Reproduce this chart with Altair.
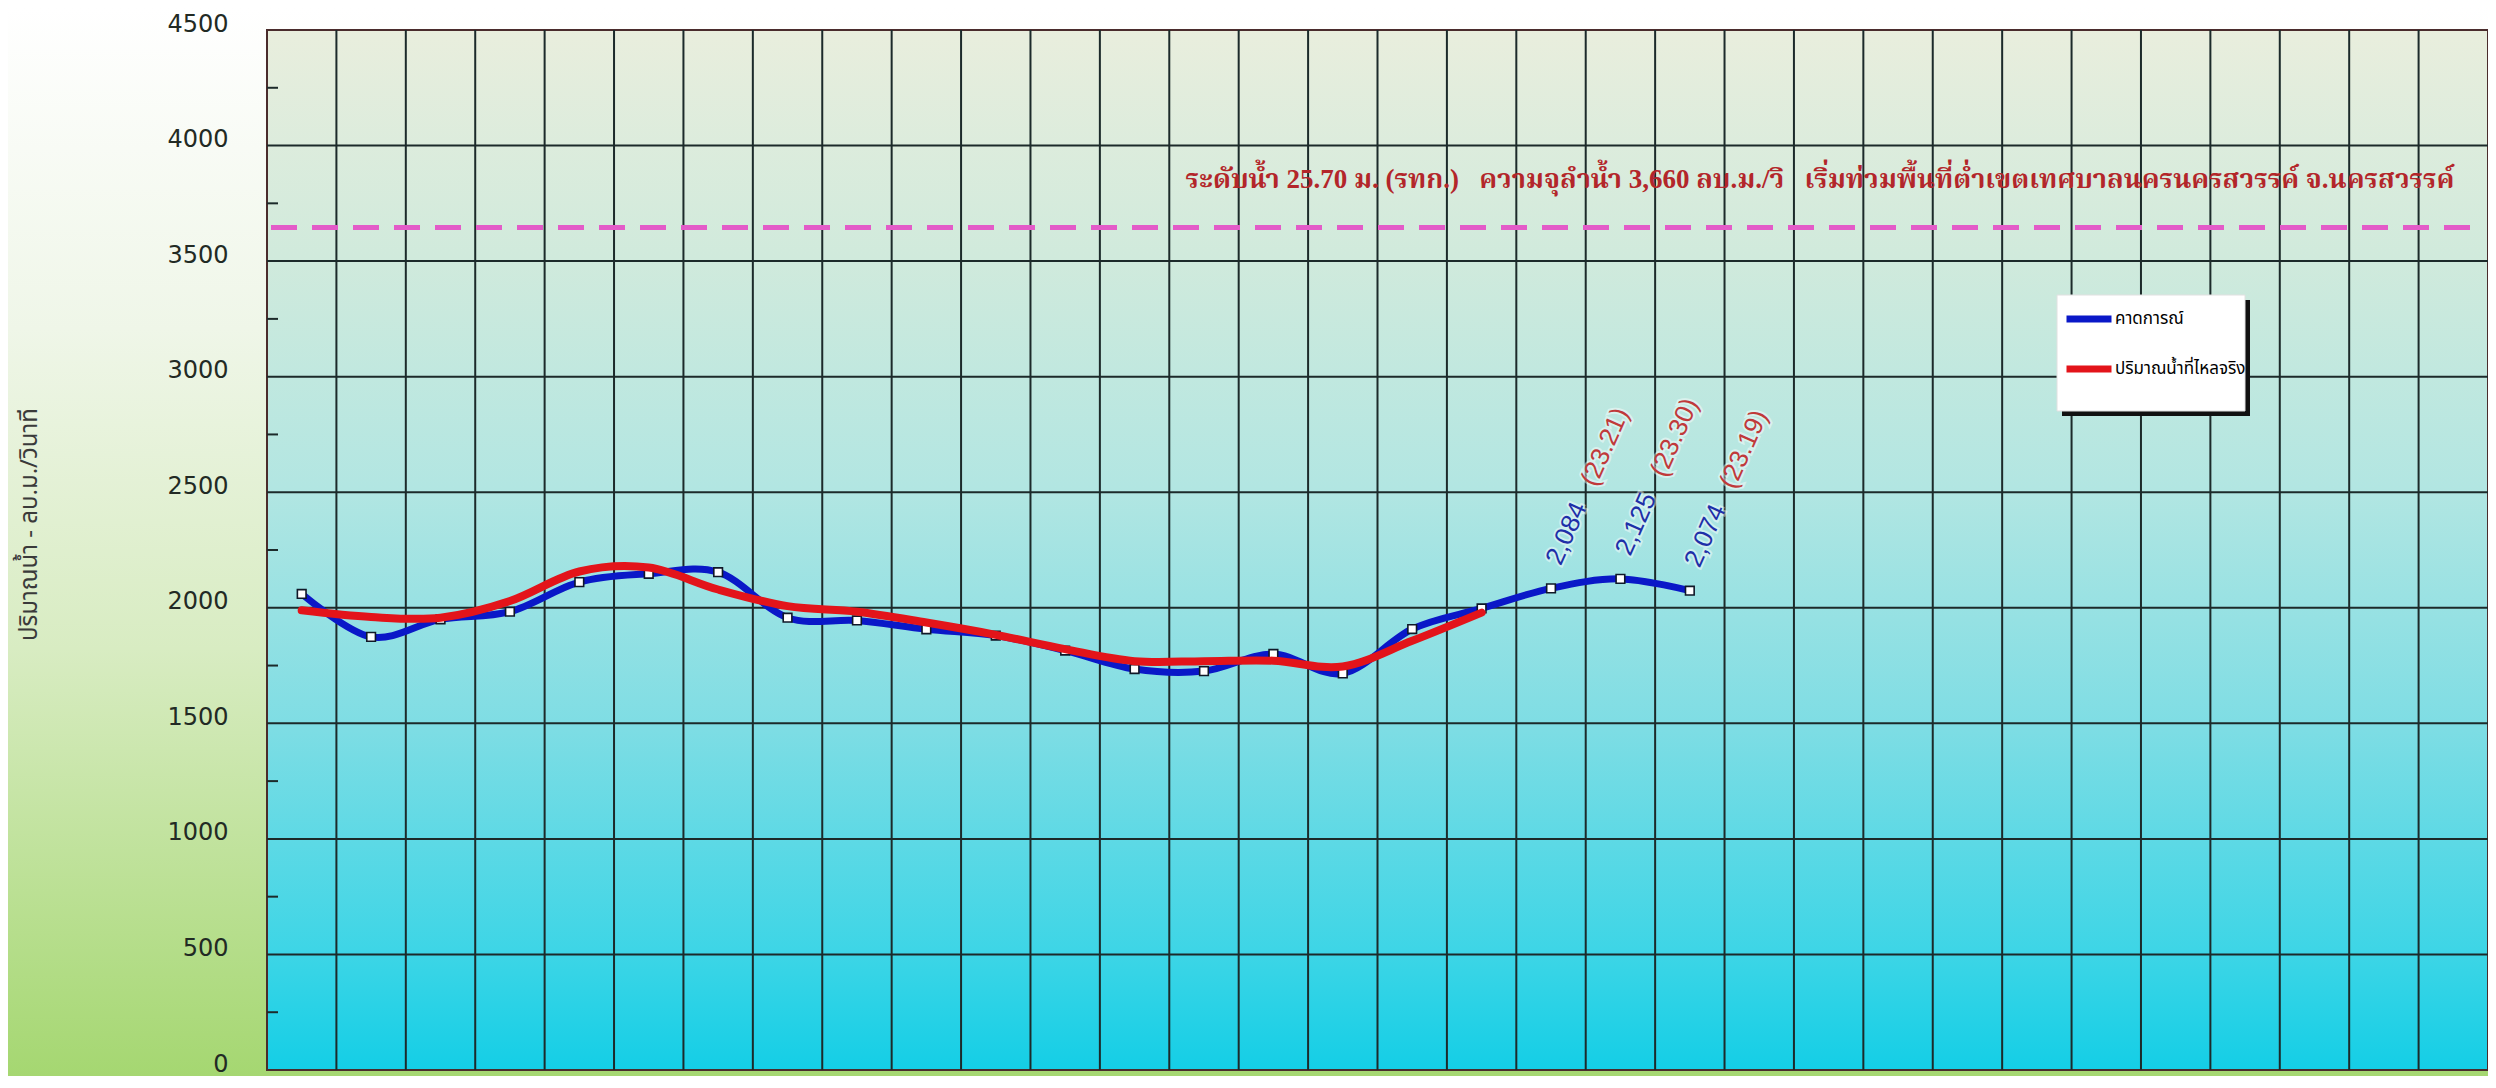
import altair as alt
import pandas as pd

# ---------------- data ----------------
days = ["1", "2", "3", "4", "5", "6", "7", "8", "9", "10", "11", "12", "13", "14", "15", "16",
        "17", "18", "19", "20", "21", "22", "23", "24", "25", "26", "27", "28", "29", "30", "31", "32"]

series_names = ["คาดการณ์", "ปริมาณน้ำที่ไหลจริง"]
series_colors = ["#0a18c8", "#e3141a"]

forecast_days = days[:21]
forecast = [2060, 1874, 1950, 1983, 2111, 2147, 2154, 1957, 1945, 1907, 1880,
            1815, 1735, 1726, 1800, 1716, 1908, 1997, 2084, 2125, 2074]

observed_days = days[:18]
observed = [1989, 1960, 1957, 2029, 2157, 2174, 2079, 2007, 1983, 1936, 1883,
            1821, 1769, 1769, 1771, 1746, 1857, 1979]

label_days = ["19", "20", "21"]
label_values = [2084, 2125, 2074]
label_stages = ["(23.21)", "(23.30)", "(23.19)"]

threshold = [3645]
note = ("ระดับน้ำ 25.70 ม. (รทก.)\u00a0\u00a0 ความจุลำน้ำ 3,660 ลบ.ม./วิ\u00a0\u00a0 "
        "เริ่มท่วมพื้นที่ต่ำเขตเทศบาลนครนครสวรรค์ จ.นครสวรรค์")

y_ticks = [0, 500, 1000, 1500, 2000, 2500, 3000, 3500, 4000, 4500]
grid_y = [500, 1000, 1500, 2000, 2500, 3000, 3500, 4000]
minor_y = [250, 750, 1250, 1750, 2250, 2750, 3250, 3750, 4250]
y_title = "ปริมาณน้ำ - ลบ.ม./วินาที"

# ---------------- layout ----------------
W, H = 2221, 1040
PAD = {"left": 259, "top": 22, "right": 0, "bottom": 6}
THAI = "Tahoma, 'Noto Sans Thai', 'Noto Sans', 'DejaVu Sans', sans-serif"
SERIF = "'Liberation Serif', 'Noto Serif Thai', 'Noto Sans Thai', serif"

forecast_df = pd.DataFrame({"day": forecast_days, "value": forecast, "series": series_names[0]})
observed_df = pd.DataFrame({"day": observed_days, "value": observed, "series": series_names[1]})
label_df = pd.DataFrame({"day": label_days, "value": label_values, "stage": label_stages})
thr_df = pd.DataFrame({"value": threshold, "note": [note]})
grid_df = pd.DataFrame({"value": grid_y})
minor_df = pd.DataFrame({"value": minor_y})
vgrid_df = pd.DataFrame({"day": days[1:]})
one = pd.DataFrame({"k": [0]})

xscale = alt.Scale(type="band", domain=days, paddingInner=0, paddingOuter=0)
yscale = alt.Scale(domain=[0, 4500], nice=False, zero=True)
yaxis = alt.Axis(values=y_ticks, format="d", grid=False, ticks=False, domain=False,
                 labelFont="DejaVu Sans", labelFontSize=24, labelColor="#222a24",
                 labelPadding=39, labelOffset=-6,
                 title=y_title, titleFont=THAI, titleFontSize=24, titleFontWeight="normal",
                 titleColor="#3a3a3a", titleAngle=270, titleX=-238, titleY=494,
                 titleAlign="center", titleBaseline="middle", zindex=1)


def X(pos=0.5):
    return alt.X("day:O", scale=xscale, axis=None, bandPosition=pos)


def Y():
    return alt.Y("value:Q", scale=yscale, axis=yaxis)


color = alt.Color("series:N", scale=alt.Scale(domain=series_names, range=series_colors),
                  legend=alt.Legend(orient="none", legendX=1796, legendY=263, title=None,
                                    padding=0, symbolType="stroke", symbolSize=2025,
                                    symbolStrokeWidth=7, symbolOffset=0, labelOffset=0,
                                    rowPadding=10, labelFont=THAI, labelFontSize=17,
                                    labelColor="black", labelLimit=400))

outer_grad = alt.LinearGradient(gradient="linear", x1=0, y1=0, x2=0, y2=1, stops=[
    alt.GradientStop(color="#ffffff", offset=0),
    alt.GradientStop(color="#eff6e8", offset=0.3),
    alt.GradientStop(color="#d8ecc2", offset=0.6),
    alt.GradientStop(color="#a5d771", offset=1)])
plot_grad = alt.LinearGradient(gradient="linear", x1=0, y1=0, x2=0, y2=1, stops=[
    alt.GradientStop(color="#e9eedd", offset=0),
    alt.GradientStop(color="#d0eadc", offset=0.22),
    alt.GradientStop(color="#b2e6e2", offset=0.44),
    alt.GradientStop(color="#7edde4", offset=0.67),
    alt.GradientStop(color="#3cd5e6", offset=0.89),
    alt.GradientStop(color="#14cee6", offset=1)])

outer_bg = alt.Chart(one).mark_rect(fill=outer_grad, stroke=None).encode(
    x=alt.value(-PAD["left"]), x2=alt.value(W), y=alt.value(-PAD["top"]), y2=alt.value(H + PAD["bottom"]))
plot_bg = alt.Chart(one).mark_rect(fill=plot_grad, stroke="#4a2c2c", strokeWidth=2).encode(
    x=alt.value(0), x2=alt.value(W), y=alt.value(0), y2=alt.value(H))

hgrid = alt.Chart(grid_df).mark_rule(color="#1c2a2a", strokeWidth=2).encode(
    y=Y(), x=alt.value(0), x2=alt.value(W))
vgrid = alt.Chart(vgrid_df).mark_rule(color="#1c2a2a", strokeWidth=2).encode(
    x=X(0), y=alt.value(0), y2=alt.value(H))
minor = alt.Chart(minor_df).mark_rule(color="#1c2a2a", strokeWidth=2).encode(
    y=Y(), x=alt.value(0), x2=alt.value(11))

thr_line = alt.Chart(thr_df).mark_rule(color="#e35bc8", strokeWidth=5, strokeDash=[26, 15]).encode(
    y=Y(), x=alt.value(4), x2=alt.value(W - 14))
thr_text = alt.Chart(thr_df).mark_text(font=SERIF, fontSize=27, fontWeight="bold", color="#b3262a",
                                       align="center", baseline="middle", dy=-48).encode(
    y=Y(), x=alt.value(1553), text="note:N")

blue_line = alt.Chart(forecast_df).mark_line(strokeWidth=7, interpolate="cardinal", strokeCap="round").encode(
    x=X(), y=Y(), color=color)
blue_pts = alt.Chart(forecast_df).mark_square(size=75, fill="white", stroke="#101828",
                                              strokeWidth=1.6, opacity=1).encode(x=X(), y=Y())
red_line = alt.Chart(observed_df).mark_line(strokeWidth=8, interpolate="cardinal", strokeCap="round").encode(
    x=X(), y=Y(), color=color)

LAB = dict(angle=294, align="left", baseline="middle", dy=-8, font="Liberation Sans", fontSize=26)
halo = dict(fill="white", stroke="white", strokeWidth=4, opacity=0.45)
lab_blue_h = alt.Chart(label_df).mark_text(dx=24, **LAB, **halo).encode(
    x=X(), y=Y(), text=alt.Text("value:Q", format=","))
lab_red_h = alt.Chart(label_df).mark_text(dx=110, **LAB, **halo).encode(
    x=X(), y=Y(), text="stage:N")
lab_blue = alt.Chart(label_df).mark_text(dx=24, color="#1e2fa8", **LAB).encode(
    x=X(), y=Y(), text=alt.Text("value:Q", format=","))
lab_red = alt.Chart(label_df).mark_text(dx=110, color="#c0393a", **LAB).encode(
    x=X(), y=Y(), text="stage:N")

shadow = alt.Chart(one).mark_rect(fill="#111111").encode(
    x=alt.value(1795), x2=alt.value(1983), y=alt.value(270), y2=alt.value(386))
legend_box = alt.Chart(one).mark_rect(fill="white", stroke="#e0e0e0", strokeWidth=1).encode(
    x=alt.value(1790), x2=alt.value(1978), y=alt.value(265), y2=alt.value(381))

chart = alt.layer(outer_bg, plot_bg, hgrid, vgrid, minor, thr_line, thr_text,
                  blue_line, blue_pts, red_line, lab_blue_h, lab_red_h, lab_blue, lab_red,
                  shadow, legend_box).properties(
    width=W, height=H, padding=PAD,
    autosize=alt.AutoSizeParams(type="none")
).configure_view(stroke=None).configure(background="white")

chart.save("out.html", embed_options={"renderer": "svg", "actions": False})
